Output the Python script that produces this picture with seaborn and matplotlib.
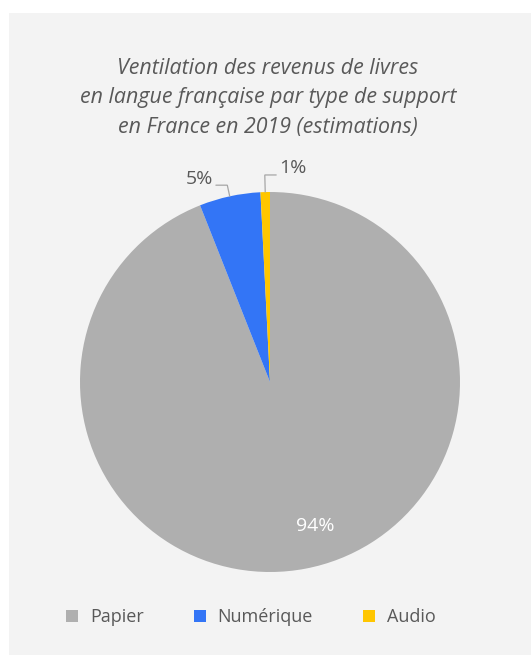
import numpy as np
import matplotlib
matplotlib.use("Agg")
import matplotlib.pyplot as plt
from matplotlib.patches import Rectangle
import seaborn as sns

# Revenue share by format (percent)
categories = ["Papier", "Numérique", "Audio"]
shares = [94.0, 5.2, 0.8]
colors = ["#AFAFAF", "#3375F6", "#FFC600"]

title_lines = [
    "Ventilation des revenus de livres",
    "en langue française par type de support",
    "en France en 2019 (estimations)",
]

sns.set_theme(style="white")
plt.rcParams["font.family"] = ["Open Sans", "DejaVu Sans"]

W, H = 531, 655
fig = plt.figure(figsize=(W / 100, H / 100), dpi=100)
fig.patch.set_facecolor("white")

# light panel behind the chart
fig.add_artist(Rectangle((9 / W, 0), 1 - 9 / W, 1 - 13 / H,
                         transform=fig.transFigure, facecolor="#F3F3F3",
                         edgecolor="none", zorder=0))

text_color = "#595959"

for i, line in enumerate(title_lines):
    fig.text(268 / W, 1 - (68 + 30 * i) / H, line, ha="center", va="center",
             fontsize=15.4, style="italic", color=text_color)

# pie axes: centre (270, 382) px, radius 190 px
ax = fig.add_axes([80 / W, (H - 572) / H, 380 / W, 380 / H])
ax.set_facecolor("none")

palette = sns.color_palette(colors)
wedges, _ = ax.pie(shares, colors=palette, startangle=90, counterclock=False,
                   radius=1, wedgeprops=dict(linewidth=0))
ax.set_xlim(-1, 1)
ax.set_ylim(-1, 1)
ax.axis("off")

for w in wedges:
    w.set_clip_on(False)

# labels
for w, val, cat in zip(wedges, shares, categories):
    mid = np.deg2rad((w.theta1 + w.theta2) / 2)
    label = f"{val:.0f}%"
    if cat == "Papier":
        ax.text(0.237, -0.758, label, ha="center", va="center",
                fontsize=14, color="white")
        continue
    p0 = np.array([np.cos(mid), np.sin(mid)])
    side = -1 if np.cos(mid) < -0.05 else 1
    r_el = 1.06 if side < 0 else 1.09
    elbow = np.array([np.cos(mid) * r_el, max(np.sin(mid) * r_el, 1.03)])
    end = elbow + np.array([0.06 * side, 0])
    ax.plot([p0[0], elbow[0], end[0]], [p0[1], elbow[1], end[1]],
            color="#A6A6A6", lw=0.9, clip_on=False, solid_joinstyle="miter")
    ax.text(end[0] + 0.015 * side, end[1] + 0.035, label,
            ha="left" if side > 0 else "right", va="center",
            fontsize=14, color=text_color)

leg = fig.legend(wedges, categories, loc="center",
                 bbox_to_anchor=(251 / W, 1 - 617 / H), ncol=3, frameon=False,
                 fontsize=13, handlelength=0.65, handleheight=0.65,
                 handletextpad=0.65, columnspacing=2.8, labelcolor=text_color)

fig.savefig("out.png", dpi=100, facecolor=fig.get_facecolor())
